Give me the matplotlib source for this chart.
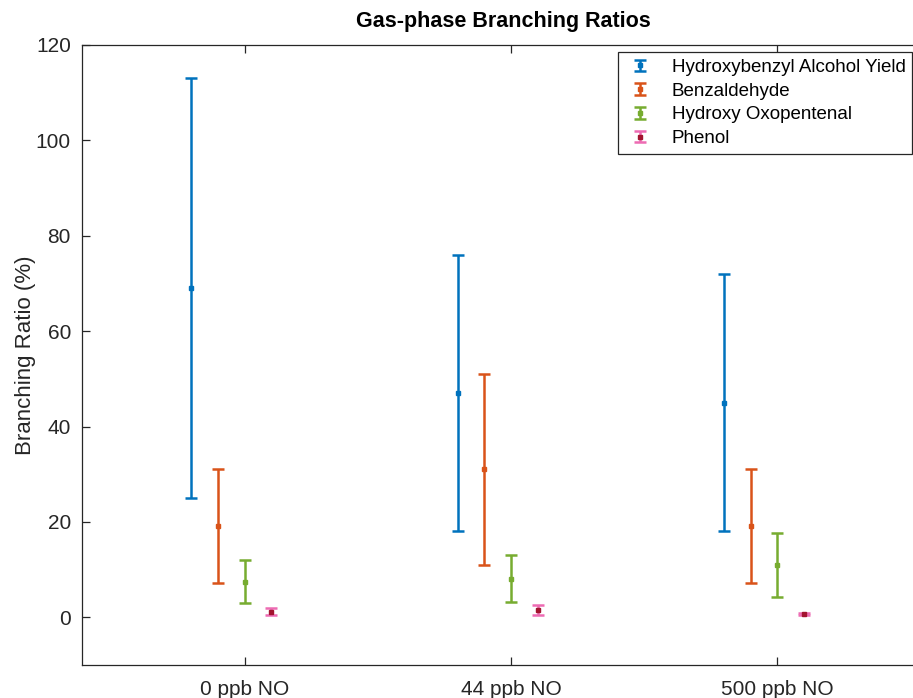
import matplotlib.pyplot as plt
from matplotlib.legend_handler import HandlerErrorbar
from matplotlib.container import ErrorbarContainer

plt.rcParams["font.family"] = ["Liberation Sans", "DejaVu Sans"]

conditions = ["0 ppb NO", "44 ppb NO", "500 ppb NO"]
products = ["Hydroxybenzyl Alcohol Yield", "Benzaldehyde",
            "Hydroxy Oxopentenal", "Phenol"]

# branching ratio (%) and its uncertainty, one list per product
hba_mean = [69, 47, 45]
hba_err = [44, 29, 27]
benz_mean = [19.2, 31, 19.1]
benz_err = [12, 20, 12]
oxo_mean = [7.5, 8.1, 11]
oxo_err = [4.5, 4.9, 6.7]
phenol_mean = [1.2, 1.5, 0.7]
phenol_err = [0.7, 1.0, 0.3]

means = [hba_mean, benz_mean, oxo_mean, phenol_mean]
errs = [hba_err, benz_err, oxo_err, phenol_err]
offsets = [-0.2, -0.1, 0.0, 0.1]
bar_colors = [(0, 0.447, 0.741), (0.85, 0.325, 0.098),
              (0.466, 0.674, 0.188), (0.93, 0.42, 0.70)]
dot_colors = [(0, 0.447, 0.741), (0.85, 0.325, 0.098),
              (0.466, 0.674, 0.188), (0.635, 0.078, 0.184)]

fig = plt.figure(figsize=(9.13, 6.98), dpi=100)
ax = fig.add_axes([82 / 913, 33 / 698, 842 / 913, 620 / 698])

x = [1, 2, 3]
for m, e, off, bc, dc, name in zip(means, errs, offsets, bar_colors,
                                   dot_colors, products):
    ax.errorbar([xi + off for xi in x], m, yerr=e, fmt="s", color=dc,
                ecolor=bc, markersize=2.5, elinewidth=1.8, capsize=4.5,
                capthick=1.8, label=name)

ax.set_xlim(0.39, 3.55)
ax.set_ylim(-10, 120)
ax.set_xticks(x)
ax.set_xticklabels(conditions)
ax.set_yticks(range(0, 121, 20))

axis_grey = "#262626"
for s in ax.spines.values():
    s.set_color(axis_grey)
    s.set_linewidth(0.9)
ax.tick_params(direction="in", length=6, width=0.9, colors=axis_grey,
               labelsize=15, top=True, right=True, pad=8)
ax.tick_params(axis="x", pad=11)

ax.set_ylabel("Branching Ratio (%)", fontsize=16, color=axis_grey, labelpad=0)
ax.set_title("Gas-phase Branching Ratios", fontsize=15.5, fontweight="bold",
             pad=13)

# short vertical bars in the legend, like the plotted ones
leg = ax.legend(loc="upper right", bbox_to_anchor=(912 / 913, 1 - 52 / 698),
                bbox_transform=fig.transFigure, borderaxespad=0,
                fontsize=13.5, frameon=True, fancybox=False, framealpha=1,
                edgecolor=axis_grey, labelspacing=0.36, handlelength=1.6,
                handletextpad=0.9, borderpad=0.35,
                handler_map={ErrorbarContainer:
                             HandlerErrorbar(xerr_size=0.25, yerr_size=0.3)})
leg.get_frame().set_linewidth(0.9)

fig.savefig("out.png", dpi=100)
